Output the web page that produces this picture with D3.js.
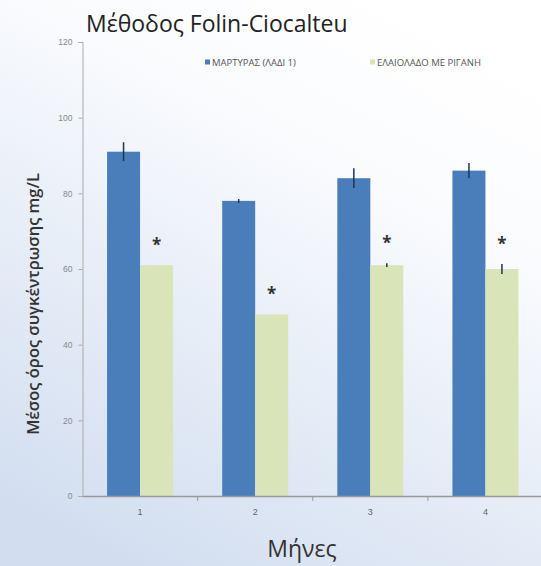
<!DOCTYPE html>
<html><head><meta charset="utf-8">
<script src="https://cdn.jsdelivr.net/npm/d3@7"></script>
<style>html,body{margin:0;padding:0;background:#fff}</style>
</head><body><div id="chart"></div>
<script>
const categories = ["1", "2", "3", "4"];
const seriesNames = ["ΜΑΡΤΥΡΑΣ (ΛΑΔΙ 1)", "ΕΛΑΙΟΛΑΔΟ ΜΕ ΡΙΓΑΝΗ"];
const controlValues = [91, 78, 84, 86];
const controlErrors = [2.5, 0.5, 2.6, 2];
const oreganoValues = [61, 48, 61, 60];
const oreganoErrors = [0, 0, 0.5, 1.3];
const significant = [true, true, true, true];
const yTicks = [0, 20, 40, 60, 80, 100, 120];
const colors = ["#4a7ebb", "#d9e5b9"];

const W = 541, H = 566;
const svg = d3.select("#chart").append("svg").attr("width", W).attr("height", H)
  .style("font-family", "'Open Sans', 'DejaVu Sans', sans-serif");

const defs = svg.append("defs");
const grad = defs.append("linearGradient").attr("id", "bg")
  .attr("x1", "0.75").attr("y1", "0").attr("x2", "0.25").attr("y2", "1");
grad.append("stop").attr("offset", "0").attr("stop-color", "#ffffff");
grad.append("stop").attr("offset", "0.25").attr("stop-color", "#fbfcfe");
grad.append("stop").attr("offset", "1").attr("stop-color", "#d2def0");
svg.append("rect").attr("width", W).attr("height", H).attr("fill", "url(#bg)");

const x0 = 82.5, x1 = 543, yTop = 42, yBot = 496;
const x = d3.scaleBand().domain(categories).range([x0, x1]).paddingInner(0).paddingOuter(0);
const y = d3.scaleLinear().domain([0, 120]).range([yBot, yTop]);
const barW = 33;

const data = categories.map((c, i) => ({
  c,
  vals: [
    { v: controlValues[i], e: controlErrors[i], s: 0 },
    { v: oreganoValues[i], e: oreganoErrors[i], s: 1, sig: significant[i] }
  ]
}));

const g = svg.append("g");
data.forEach(d => {
  d.vals.forEach(b => {
    const cx = x(d.c) + x.bandwidth() / 2;
    const bx = b.s === 0 ? cx - barW : cx;
    g.append("rect").attr("x", bx).attr("y", y(b.v)).attr("width", barW)
      .attr("height", y(0) - y(b.v)).attr("fill", colors[b.s]);
    if (b.e > 0) {
      g.append("line").attr("x1", bx + barW / 2).attr("x2", bx + barW / 2)
        .attr("y1", y(b.v + b.e)).attr("y2", y(b.v - b.e))
        .attr("stroke", "#1f3550").attr("stroke-width", 1.5);
    }
    if (b.sig) {
      g.append("text").attr("x", bx + barW / 2).attr("y", y(b.v + b.e) - 14)
        .attr("text-anchor", "middle").attr("font-size", 17).attr("font-weight", "bold")
        .attr("fill", "#333").text("*");
    }
  });
});

const yAxis = d3.axisLeft(y).tickValues(yTicks).tickSize(4).tickPadding(6);
const ya = svg.append("g").attr("transform", `translate(${x0},0)`).call(yAxis);
ya.select(".domain").attr("stroke", "#aaa");
ya.selectAll(".tick line").attr("stroke", "#aaa");
ya.selectAll(".tick text").attr("fill", "#888").attr("font-size", 8.5);

const xa = svg.append("g").attr("transform", `translate(0,${yBot})`)
  .call(d3.axisBottom(x).tickSize(0).tickPadding(13));
xa.select(".domain").attr("stroke", "#999").attr("stroke-width", 1.5);
xa.selectAll(".tick text").attr("fill", "#666").attr("font-size", 9);
svg.append("g").selectAll("line").data(categories.slice(1)).join("line")
  .attr("x1", d => x(d)).attr("x2", d => x(d)).attr("y1", yBot).attr("y2", yBot + 5)
  .attr("stroke", "#999");

svg.append("text").attr("x", 86).attr("y", 32).attr("font-size", 23).attr("fill", "#222")
  .text("Μέθοδος Folin-Ciocalteu");
svg.append("text").attr("transform", "translate(39,304) rotate(-90)")
  .attr("text-anchor", "middle").attr("font-size", 16.5).attr("font-weight", 600).attr("fill", "#333")
  .text("Μέσος όρος συγκέντρωσης mg/L");
svg.append("text").attr("x", 302).attr("y", 557).attr("text-anchor", "middle")
  .attr("font-size", 23).attr("fill", "#333").text("Μήνες");

const legX = [205, 370];
seriesNames.forEach((n, i) => {
  svg.append("rect").attr("x", legX[i]).attr("y", 59.5).attr("width", 5).attr("height", 5).attr("fill", colors[i]);
  svg.append("text").attr("x", legX[i] + 7).attr("y", 65.5).attr("font-size", 9.5)
    .attr("fill", "#555").text(n);
});
</script></body></html>
